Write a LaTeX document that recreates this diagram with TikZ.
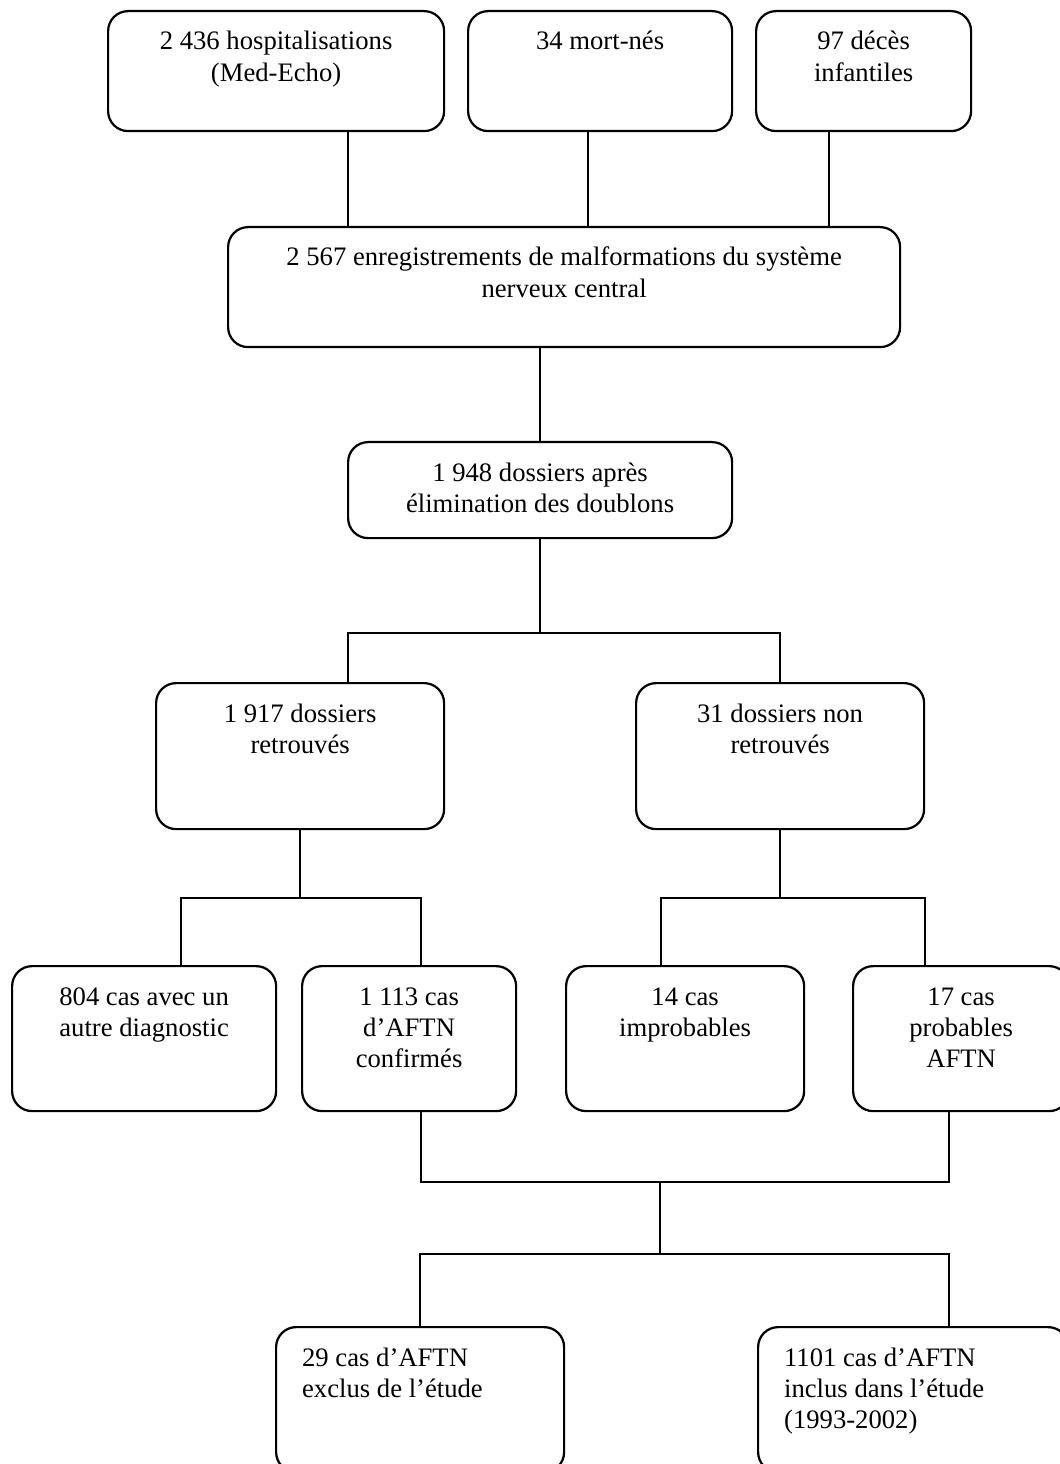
\documentclass[tikz,border=0pt]{standalone}
\usepackage{fontspec}
\setmainfont{Liberation Serif}
\newlength{\pxu}
\setlength{\pxu}{0.45pt}
% box contents: width and height in pixels, text at the top
\newcommand{\boxtxt}[3]{\parbox[t][#2\pxu][t]{#1\pxu}{\vspace*{7.7pt}\centering\strut #3\par}}
\newcommand{\boxtxtl}[3]{\parbox[t][#2\pxu][t]{#1\pxu}{\vspace*{7.7pt}\raggedright\leftskip=26\pxu\strut #3\par}}

\begin{document}
\begin{tikzpicture}[x=0.45pt, y=-0.45pt]
  \tikzset{
    box/.style={
      draw,
      rounded corners=9pt,
      line width=1pt,
      inner sep=0pt,
      anchor=north west,
      font=\fontsize{12pt}{14pt}\selectfont
    },
    link/.style={
      draw,
      line width=0.9pt
    }
  }
  \useasboundingbox (0,0) rectangle (1060,1464);
  \clip (0,0) rectangle (1060,1464);

  % Sources
  \node[box] (hosp) at (107,10) {\boxtxt{336}{120}{2 436 hospitalisations\\(Med-Echo)}};
  \node[box] (mort) at (467,10) {\boxtxt{264}{120}{34 mort-nés}};
  \node[box] (deces) at (755,10) {\boxtxt{215}{120}{97 décès\\infantiles}};

  % Records and files
  \node[box] (enreg) at (227,226) {\boxtxt{672}{120}{2 567 enregistrements de malformations du système\\nerveux central}};
  \node[box] (doubl) at (347,441) {\boxtxt{384}{96}{1 948 dossiers après\\élimination des doublons}};
  \node[box] (retr) at (155,682) {\boxtxt{288}{146}{1 917 dossiers\\retrouvés}};
  \node[box] (nonretr) at (635,682) {\boxtxt{288}{146}{31 dossiers non\\retrouvés}};

  % Case review
  \node[box] (autre) at (11,965) {\boxtxt{264}{145}{804 cas avec un\\autre diagnostic}};
  \node[box] (confirm) at (301,965) {\boxtxt{214}{145}{1 113 cas\\d’AFTN\\confirmés}};
  \node[box] (improb) at (565,965) {\boxtxt{238}{145}{14 cas\\improbables}};
  \node[box] (prob) at (852,965) {\boxtxt{216}{145}{17 cas\\probables\\AFTN}};

  % Final selection
  \node[box] (exclu) at (275,1326) {\boxtxtl{288}{145}{29 cas d’AFTN\\exclus de l’étude}};
  \node[box] (inclu) at (757,1326) {\boxtxtl{310}{145}{1101 cas d’AFTN\\inclus dans l’étude\\(1993-2002)}};

  % Junctions
  \coordinate (bar1) at (539,633);
  \coordinate (bar2) at (300,898);
  \coordinate (bar3) at (779,898);
  \coordinate (bar4) at (660,1182);
  \coordinate (bar5) at (660,1254);

  % Connectors
  \draw[link] ([xshift=72\pxu]hosp.south) -- ([xshift=72\pxu]hosp.south |- enreg.north);
  \draw[link] ([xshift=-12\pxu]mort.south) -- ([xshift=-12\pxu]mort.south |- enreg.north);
  \draw[link] ([xshift=-35\pxu]deces.south) -- ([xshift=-35\pxu]deces.south |- enreg.north);
  \draw[link] ([xshift=-24\pxu]enreg.south) -- ([xshift=-24\pxu]enreg.south |- doubl.north);

  \draw[link] (doubl.south) -- (doubl.south |- bar1);
  \draw[link] ([xshift=48\pxu]retr.north) |- (bar1) -| (nonretr.north);

  \draw[link] (retr.south) -- (retr.south |- bar2);
  \draw[link] ([xshift=37\pxu]autre.north) |- (bar2) -| ([xshift=12\pxu]confirm.north);

  \draw[link] (nonretr.south) -- (nonretr.south |- bar3);
  \draw[link] ([xshift=-24\pxu]improb.north) |- (bar3) -| ([xshift=-36\pxu]prob.north);

  \draw[link] ([xshift=12\pxu]confirm.south) |- (bar4) -| ([xshift=-12\pxu]prob.south);
  \draw[link] (bar4) -- (bar5);
  \draw[link] (exclu.north) |- (bar5) -| ([xshift=36\pxu]inclu.north);
\end{tikzpicture}
\end{document}
